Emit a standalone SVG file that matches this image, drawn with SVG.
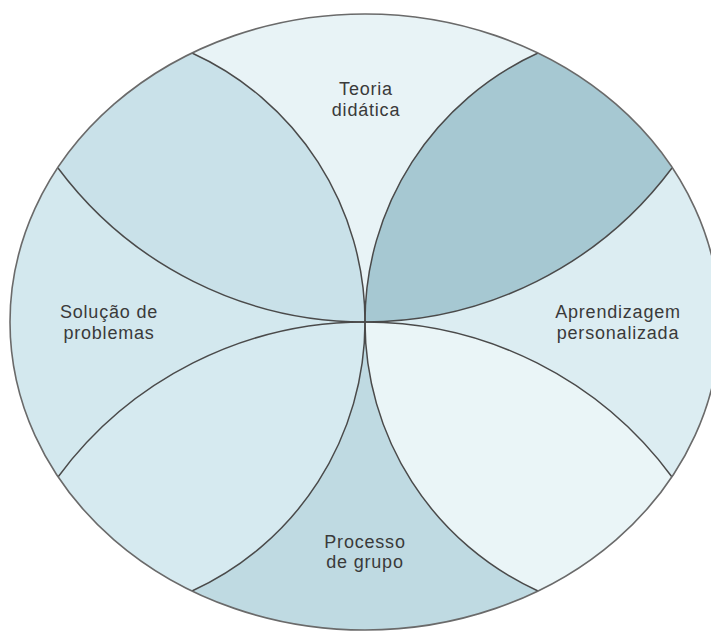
<svg xmlns="http://www.w3.org/2000/svg" width="711" height="633" viewBox="0 0 711 633">
<style>
.lbl{font-family:"Liberation Sans",Arial,sans-serif;font-size:18px;fill:#3a3a3a;text-anchor:middle;letter-spacing:0.8px}
.arc{fill:none;stroke:#4a4a4a;stroke-width:1.5}
.rim{fill:none;stroke:#6a6a6a;stroke-width:1.6}
</style>
<rect width="711" height="633" fill="#ffffff"/>
<g id="regions">
<g id="teoria-didatica">
<path d="M192,53 A355,308 0 0 1 538,53 A295.6,295.6 0 0 0 365,322 A295.6,295.6 0 0 0 192,53 Z" fill="#e8f3f6"/>
<text class="lbl" x="366" y="95">Teoria</text>
<text class="lbl" x="366" y="116">didática</text>
</g>
<g id="petal-top-left">
<path d="M58,168 A355,308 0 0 1 192,53 A295.6,295.6 0 0 1 365,322 A383,383 0 0 1 58,168 Z" fill="#c9e1e9"/>
</g>
<g id="petal-top-right">
<path d="M538,53 A355,308 0 0 1 672,168 A383,383 0 0 1 365,322 A295.6,295.6 0 0 1 538,53 Z" fill="#a6c8d2"/>
</g>
<g id="solucao-de-problemas">
<path d="M58,477 A355,308 0 0 1 58,168 A383,383 0 0 0 365,322 A381.5,381.5 0 0 0 58,477 Z" fill="#d3e8ee"/>
<text class="lbl" x="109" y="318">Solução de</text>
<text class="lbl" x="109" y="339">problemas</text>
</g>
<g id="aprendizagem-personalizada">
<path d="M672,168 A355,308 0 0 1 672,477 A381.5,381.5 0 0 0 365,322 A383,383 0 0 0 672,168 Z" fill="#dcedf2"/>
<text class="lbl" x="618" y="318">Aprendizagem</text>
<text class="lbl" x="618" y="339">personalizada</text>
</g>
<g id="petal-bottom-left">
<path d="M192,591 A355,308 0 0 1 58,477 A381.5,381.5 0 0 1 365,322 A295.6,295.6 0 0 1 192,591 Z" fill="#d6eaf0"/>
</g>
<g id="petal-bottom-right">
<path d="M672,477 A355,308 0 0 1 538,591 A295.6,295.6 0 0 1 365,322 A381.5,381.5 0 0 1 672,477 Z" fill="#eaf5f7"/>
</g>
<g id="processo-de-grupo">
<path d="M538,591 A355,308 0 0 1 192,591 A295.6,295.6 0 0 0 365,322 A295.6,295.6 0 0 0 538,591 Z" fill="#bfdae2"/>
<text class="lbl" x="365" y="548">Processo</text>
<text class="lbl" x="365" y="568">de grupo</text>
</g>
</g>
<g id="connectors">
<path class="arc" d="M192,53 A295.6,295.6 0 0 1 365,322 A295.6,295.6 0 0 1 192,591"/>
<path class="arc" d="M538,53 A295.6,295.6 0 0 0 365,322 A295.6,295.6 0 0 0 538,591"/>
<path class="arc" d="M58,168 A383,383 0 0 0 365,322 A383,383 0 0 0 672,168"/>
<path class="arc" d="M58,477 A381.5,381.5 0 0 1 365,322 A381.5,381.5 0 0 1 672,477"/>
<ellipse class="rim" cx="365" cy="322" rx="355" ry="308"/>
</g>
</svg>
